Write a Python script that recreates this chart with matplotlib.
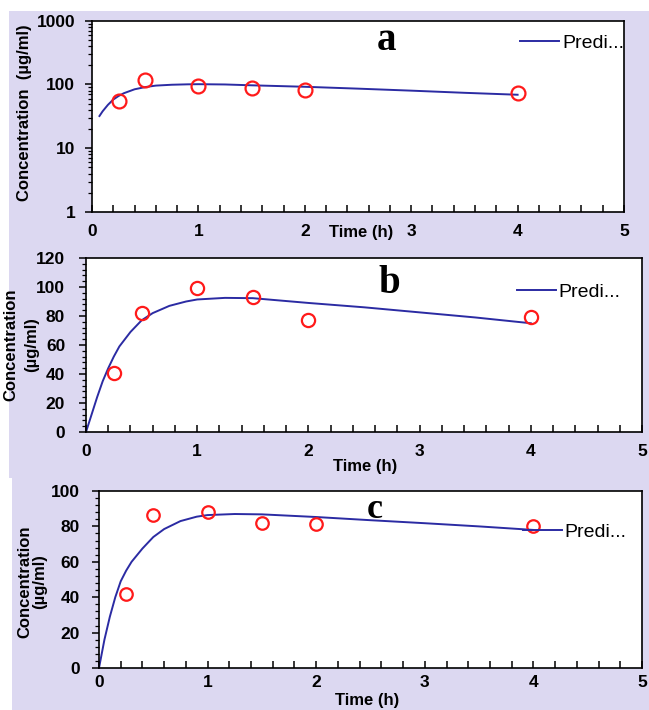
import matplotlib
matplotlib.use("Agg")
import matplotlib.pyplot as plt
from matplotlib.patches import Rectangle
from matplotlib.ticker import MultipleLocator, LogLocator, NullFormatter

# observed concentrations (ug/ml) at sampling times (h)
obs_t = [0.25, 0.5, 1.0, 1.5, 2.0, 4.0]
obs_a = [54.5, 117, 95, 86.5, 82, 74]
obs_b = [40.7, 82, 99.4, 93.3, 77.3, 79]
obs_c = [41.9, 86.4, 87.9, 81.7, 81.1, 80.2]

# predicted curves
line_t_a = [0.07, 0.1, 0.15, 0.2, 0.25, 0.3, 0.4, 0.5, 0.6, 0.75, 0.9, 1.0, 1.25, 1.5, 2.0, 2.5, 3.0, 3.5, 4.0]
line_a = [32, 38, 48, 58, 66, 73, 84, 91, 96, 99, 100.5, 101, 100, 97, 92, 86, 80, 74, 69]
line_t = [0, 0.05, 0.1, 0.15, 0.2, 0.25, 0.3, 0.4, 0.5, 0.6, 0.75, 0.9, 1.0, 1.25, 1.5, 2.0, 2.5, 3.0, 3.5, 4.0]
line_b = [0, 12, 24, 35, 44, 52, 59, 69, 77, 82, 87, 90, 91.4, 92.5, 92.3, 89, 86, 82.5, 79, 75]
line_c = [0, 16, 29, 40, 49, 55, 60, 67.5, 74, 78.5, 83, 85.5, 86.4, 87, 86.8, 85.3, 83.5, 81.8, 80, 78]

x_ticks = [0, 1, 2, 3, 4, 5]
legend_text = "Predi..."
ylab = "Concentration"
unit = "(\u00b5g/ml)"

W, H = 649, 710
LAV = "#dcd8f1"
LINE_COL = "#2b2ba3"
RED = "#ff1a1a"
SANS = "Liberation Sans"
SERIF = "Liberation Serif"

fig = plt.figure(figsize=(W / 100, H / 100), dpi=100)
fig.patch.set_facecolor("white")


def px_rect(x0, y0, x1, y1):
    # pixel box (top-left origin) -> figure fraction [l, b, w, h]
    return [x0 / W, 1 - y1 / H, (x1 - x0) / W, (y1 - y0) / H]


# lavender backgrounds behind the panels
for x0, y0, x1, y1 in [(9, 11, 649, 478), (12, 478, 649, 710)]:
    l, b, w, h = px_rect(x0, y0, x1, y1)
    fig.patches.append(Rectangle((l, b), w, h, transform=fig.transFigure,
                                 facecolor=LAV, edgecolor="none", zorder=-10))


def style_axes(ax, xpad, ypad):
    ax.set_facecolor("white")
    for s in ax.spines.values():
        s.set_linewidth(1.2)
        s.set_color("black")
    ax.set_xlim(0, 5)
    ax.set_xticks(x_ticks)
    ax.xaxis.set_minor_locator(MultipleLocator(0.2))
    ax.tick_params(axis="x", which="both", direction="in", length=5, width=1.1,
                   pad=xpad, top=False)
    ax.tick_params(axis="y", which="major", direction="out", length=5, width=1.1,
                   pad=ypad, right=False)
    ax.tick_params(axis="y", which="minor", direction="out", length=3, width=0.9,
                   right=False)
    for lab in ax.get_xticklabels() + ax.get_yticklabels():
        lab.set_fontfamily(SANS)
        lab.set_fontweight("bold")
        lab.set_fontsize(12.5)


def add_legend(ax, x_anchor, y_anchor):
    ax.legend([legend_text], loc="center right", bbox_to_anchor=(x_anchor, y_anchor),
              frameon=False, borderpad=0, borderaxespad=0, handlelength=2.0,
              handletextpad=0.15, prop={"family": SANS, "size": 14})


# 1. panel a (log scale)
ax_a = fig.add_axes(px_rect(92, 20.7, 624, 212))
ax_a.plot(line_t_a, line_a, color=LINE_COL, lw=1.4)
ax_a.plot(obs_t, obs_a, "o", mfc="none", mec=RED, mew=1.6, ms=10)
ax_a.set_yscale("log")
ax_a.set_ylim(1, 1000)
ax_a.set_yticks([1, 10, 100, 1000])
ax_a.set_yticklabels(["1", "10", "100", "1000"])
ax_a.yaxis.set_minor_locator(LogLocator(subs=range(2, 10)))
ax_a.yaxis.set_minor_formatter(NullFormatter())
style_axes(ax_a, 8.5, 7)
add_legend(ax_a, 1.0, 0.883)
ax_a.text(0.554, 0.847, "a", transform=ax_a.transAxes, ha="center", va="baseline",
          fontfamily=SERIF, fontweight="bold", fontsize=28)
fig.text(361 / W, 1 - 232 / H, "Time (h)", ha="center", va="center",
         fontfamily=SANS, fontweight="bold", fontsize=12)
fig.text(24 / W, 1 - 113 / H, ylab + "  " + unit, rotation=90, ha="center", va="center",
         fontfamily=SANS, fontweight="bold", fontsize=12)

# 2. panel b
ax_b = fig.add_axes(px_rect(86, 258, 642, 432))
ax_b.plot(line_t, line_b, color=LINE_COL, lw=1.4)
ax_b.plot(obs_t, obs_b, "o", mfc="none", mec=RED, mew=1.6, ms=9.5)
ax_b.set_ylim(0, 120)
ax_b.yaxis.set_major_locator(MultipleLocator(20))
ax_b.yaxis.set_minor_locator(MultipleLocator(4))
style_axes(ax_b, 8.5, 10)
add_legend(ax_b, 0.962, 0.805)
ax_b.text(0.545, 0.799, "b", transform=ax_b.transAxes, ha="center", va="baseline",
          fontfamily=SERIF, fontweight="bold", fontsize=28)
fig.text(365 / W, 1 - 467 / H, "Time (h)", ha="center", va="center",
         fontfamily=SANS, fontweight="bold", fontsize=12)
fig.text(11 / W, 1 - 345 / H, ylab, rotation=90, ha="center", va="center",
         fontfamily=SANS, fontweight="bold", fontsize=12)
fig.text(32 / W, 1 - 345 / H, unit, rotation=90, ha="center", va="center",
         fontfamily=SANS, fontweight="bold", fontsize=12)

# 3. panel c
ax_c = fig.add_axes(px_rect(99, 491, 642, 668))
ax_c.plot(line_t, line_c, color=LINE_COL, lw=1.4)
ax_c.plot(obs_t, obs_c, "o", mfc="none", mec=RED, mew=1.6, ms=9)
ax_c.set_ylim(0, 100)
ax_c.yaxis.set_major_locator(MultipleLocator(20))
ax_c.yaxis.set_minor_locator(MultipleLocator(4))
style_axes(ax_c, 5, 9)
add_legend(ax_c, 0.972, 0.768)
ax_c.text(0.508, 0.847, "c", transform=ax_c.transAxes, ha="center", va="baseline",
          fontfamily=SERIF, fontweight="bold", fontsize=26)
fig.text(367 / W, 1 - 701 / H, "Time (h)", ha="center", va="center",
         fontfamily=SANS, fontweight="bold", fontsize=12)
fig.text(25 / W, 1 - 582 / H, ylab, rotation=90, ha="center", va="center",
         fontfamily=SANS, fontweight="bold", fontsize=12)
fig.text(40 / W, 1 - 582 / H, unit, rotation=90, ha="center", va="center",
         fontfamily=SANS, fontweight="bold", fontsize=12)

fig.savefig("out.png", dpi=100)
